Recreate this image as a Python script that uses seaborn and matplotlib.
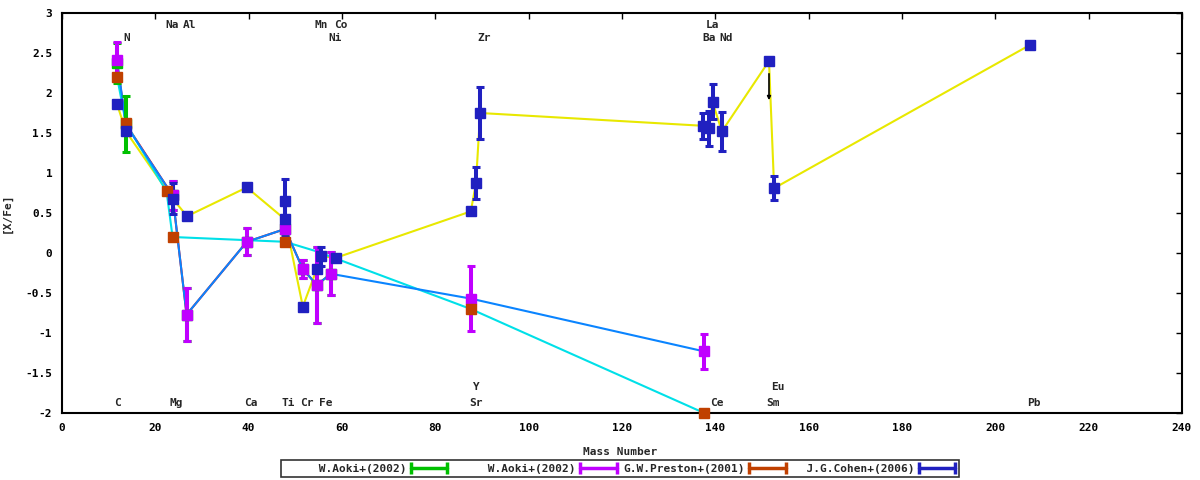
import numpy as np
import pandas as pd
import matplotlib
matplotlib.use("Agg")
import matplotlib.pyplot as plt
import seaborn as sns
from matplotlib.lines import Line2D
from matplotlib.legend_handler import HandlerBase
from matplotlib.ticker import FuncFormatter

# W.Aoki+(2002) -- first star (mostly hidden under the second one)
aoki1_mass = [11.8, 13.7, 23.7, 26.7, 39.6, 47.8, 51.6, 54.6, 57.6]
aoki1_xfe = [2.37, 1.61, 0.72, -0.77, 0.14, 0.30, -0.20, -0.40, -0.26]
aoki1_err = [0.25, 0.35, 0.18, 0.33, 0.17, 0.11, 0.11, 0.48, 0.27]

# W.Aoki+(2002) -- second star
aoki2_mass = [11.8, 23.7, 26.7, 39.6, 47.8, 51.6, 54.6, 57.6, 87.6, 137.6]
aoki2_xfe = [2.41, 0.72, -0.77, 0.14, 0.30, -0.20, -0.40, -0.26, -0.57, -1.23]
aoki2_err = [0.23, 0.18, 0.33, 0.17, 0.11, 0.11, 0.48, 0.27, 0.41, 0.22]

# G.W.Preston+(2001)
preston_mass = [11.8, 13.7, 22.4, 23.7, 47.8, 87.6, 137.6]
preston_xfe = [2.20, 1.62, 0.77, 0.20, 0.14, -0.70, -2.00]
preston_err = [0, 0, 0, 0, 0, 0, 0]

# J.G.Cohen+(2006)
cohen_mass = [11.8, 13.7, 23.7, 26.8, 39.6, 47.8, 47.8, 51.6, 54.6, 55.6, 58.7,
              87.6, 88.7, 89.6, 137.4, 138.7, 139.4, 141.4, 151.5, 152.6, 207.4]
cohen_xfe = [1.86, 1.52, 0.68, 0.46, 0.82, 0.65, 0.42, -0.67, -0.20, -0.04, -0.06,
             0.52, 0.87, 1.75, 1.59, 1.56, 1.89, 1.52, 2.40, 0.81, 2.60]
cohen_err = [0, 0, 0.19, 0, 0.03, 0.28, 0.2, 0, 0, 0.12, 0,
             0, 0.2, 0.33, 0.16, 0.22, 0.22, 0.24, 0, 0.15, 0]

# upper limit arrow (Sm)
limit_mass = [151.5]
limit_top = [2.24]
limit_bottom = [1.91]

# connecting lines
red_mass = aoki1_mass
red_xfe = aoki1_xfe
yellow_mass = [11.8, 13.7, 23.7, 26.8, 39.6, 47.8, 51.6, 54.6, 55.6, 58.7, 87.6, 88.7, 89.6,
               137.4, 138.7, 139.4, 141.4, 151.5, 152.6, 207.4]
yellow_xfe = [1.86, 1.52, 0.68, 0.46, 0.82, 0.42, -0.67, -0.20, -0.04, -0.06, 0.52, 0.87, 1.75,
              1.59, 1.56, 1.89, 1.52, 2.40, 0.81, 2.60]
cyan_mass = [11.8, 13.7, 22.4, 23.7, 47.8, 54.6, 87.6, 137.6]
cyan_xfe = [2.20, 1.62, 0.77, 0.20, 0.14, 0.02, -0.70, -2.00]
dodger_mass = [11.8, 13.7, 23.7, 26.7, 39.6, 47.8, 51.6, 54.6, 57.6, 87.6, 137.6]
dodger_xfe = [2.41, 1.60, 0.72, -0.77, 0.14, 0.30, -0.20, -0.40, -0.26, -0.57, -1.23]

# element labels
label_text = ['Na', 'Al', 'Mn', 'Co', 'La', 'N', 'Ni', 'Zr', 'Ba', 'Nd', 'Y', 'Eu',
              'C', 'Mg', 'Ca', 'Ti', 'Cr', 'Fe', 'Sr', 'Ce', 'Sm', 'Pb']
label_x = [23.6, 27.4, 55.6, 59.7, 139.3, 13.9, 58.5, 90.5, 138.6, 142.4, 88.7, 153.3,
           11.8, 24.4, 40.5, 48.4, 52.5, 56.6, 88.7, 140.4, 152.4, 208.3]
label_y = [2.85] * 5 + [2.69] * 5 + [-1.67] * 2 + [-1.875] * 10

sns.set_theme(style="white")
plt.rcParams['font.family'] = ['DejaVu Sans Mono', 'DejaVu Sans']
plt.rcParams['font.size'] = 8
plt.rcParams['font.weight'] = 'bold'
plt.rcParams['axes.unicode_minus'] = False

fig = plt.figure(figsize=(12, 4.8), dpi=100)
ax = fig.add_axes([62 / 1200, 1 - 413 / 480, 1120 / 1200, 400 / 480])

# lines
lines = [(red_mass, red_xfe, '#ff0000'),
         (yellow_mass, yellow_xfe, '#e8e800'),
         (cyan_mass, cyan_xfe, '#00e0e8'),
         (dodger_mass, dodger_xfe, '#0a84ff')]
for mx, my, col in lines:
    df = pd.DataFrame({'mass': mx, 'xfe': my})
    sns.lineplot(data=df, x='mass', y='xfe', sort=False, estimator=None,
                 color=col, lw=1.5, ax=ax, legend=False)

# points with error bars
series = [
    ('W.Aoki+(2002)', aoki1_mass, aoki1_xfe, aoki1_err, '#00c000'),
    ('W.Aoki+(2002)', aoki2_mass, aoki2_xfe, aoki2_err, '#c000ff'),
    ('G.W.Preston+(2001)', preston_mass, preston_xfe, preston_err, '#c04000'),
    ('J.G.Cohen+(2006)', cohen_mass, cohen_xfe, cohen_err, '#2020c0'),
]
handles = []
labels = []
for name, mx, my, me, col in series:
    ax.errorbar(mx, my, yerr=me, fmt='s', color=col, mec=col, ms=6.6,
                elinewidth=2.9, capsize=3.0, capthick=2.2, zorder=3, clip_on=False)
    handles.append(Line2D([], [], color=col))
    labels.append(name.rjust(18))

for x, top, bot in zip(limit_mass, limit_top, limit_bottom):
    ax.annotate('', xy=(x, bot), xytext=(x, top),
                arrowprops=dict(arrowstyle='-|>', color='black', lw=1.2,
                                mutation_scale=5, shrinkA=0, shrinkB=0), zorder=4)

for t, x, y in zip(label_text, label_x, label_y):
    ax.text(x, y, t, ha='center', va='center', fontsize=8, fontweight='bold')

ax.set_xlim(0, 240)
ax.set_ylim(-2, 3)
ax.set_xticks(np.arange(0, 241, 20))
ax.set_yticks(np.arange(-2, 3.01, 0.5))
ax.yaxis.set_major_formatter(FuncFormatter(lambda v, p: f'{v:g}'))
ax.tick_params(direction='in', length=4, width=1, top=True, right=True,
               colors='black', labelsize=8, pad=7)
for s in ax.spines.values():
    s.set_color('black')
    s.set_linewidth(1.5)

ax.set_xlabel('Mass Number', fontsize=8, fontweight='bold')
ax.set_ylabel('[X/Fe]', fontsize=8, fontweight='bold')
ax.xaxis.set_label_coords(0.498, -0.085)
ax.yaxis.set_label_coords(-0.045, 0.5)


class GnuBar(HandlerBase):
    def create_artists(self, legend, orig_handle, xdescent, ydescent, width,
                       height, fontsize, trans):
        c = orig_handle.get_color()
        y = height / 2 - ydescent
        x0, x1 = -xdescent, width - xdescent
        bar = Line2D([x0, x1], [y, y], color=c, lw=2.5, transform=trans)
        caps = Line2D([x0, x1], [y, y], ls='none', marker='|', ms=8, mew=2.5,
                      color=c, transform=trans)
        return [bar, caps]


leg = fig.legend(handles, labels, loc='center', bbox_to_anchor=(620 / 1200, 1 - 468.5 / 480),
                 ncol=4, markerfirst=False, frameon=True, fancybox=False,
                 handler_map={Line2D: GnuBar()}, handlelength=3.3, handletextpad=0.4,
                 columnspacing=0.6, borderpad=0.3, prop={'size': 8, 'weight': 'bold'})
leg.get_frame().set_edgecolor('black')
leg.get_frame().set_linewidth(1.2)

fig.savefig('out.png', dpi=100, facecolor='white')
